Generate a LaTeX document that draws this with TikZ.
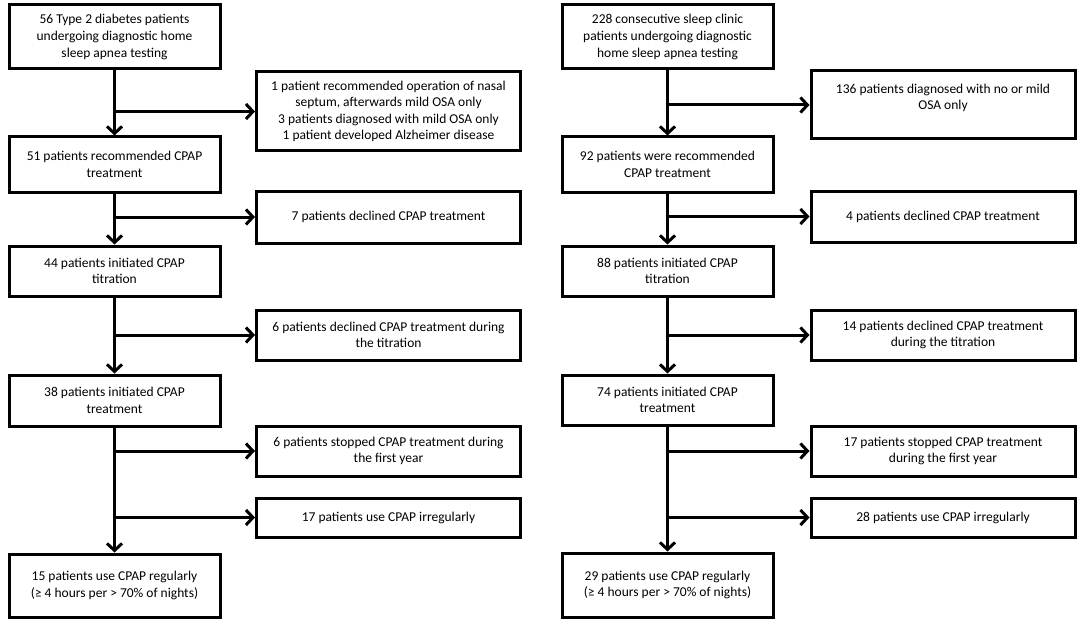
\documentclass[tikz,border=0pt]{standalone}
\usepackage{fontspec}
\setmainfont{Carlito}
\usetikzlibrary{arrows.meta}
\begin{document}
\begin{tikzpicture}[x=1pt,y=-1pt,
  box/.style={draw=black, line width=3pt, fill=white, align=center, inner sep=2pt,
    font=\fontsize{13.5}{16.6}\selectfont},
  mainbox/.style={box, minimum width=211pt},
  sidebox/.style={box, minimum width=264pt},
  arr/.style={line width=3pt, -{Straight Barb[length=7pt,width=15pt]}}]
\useasboundingbox (0,0) rectangle (1084,623);
% left column
\node[mainbox, minimum height=64pt] (a1) at (114.5,37) {56 Type 2 diabetes patients\\undergoing diagnostic home\\sleep apnea testing};
\node[mainbox, minimum height=55pt] (a2) at (114.5,164.5) {51 patients recommended  CPAP\\treatment};
\node[mainbox, minimum height=50pt] (a3) at (114.5,271) {44 patients initiated CPAP\\titration};
\node[mainbox, minimum height=51pt] (a4) at (114.5,400.5) {38 patients initiated CPAP\\treatment};
\node[mainbox, minimum height=63pt] (a5) at (114.5,585.5) {15 patients use CPAP regularly\\(≥ 4 hours per {>} 70\% of nights)};
\node[sidebox, minimum height=79pt] (s1) at (388.5,111.5) {1 patient recommended  operation of nasal\\septum, afterwards mild OSA only\\3 patients diagnosed with mild OSA only\\1 patient developed  Alzheimer disease};
\node[sidebox, minimum height=52pt] (s2) at (388.5,217) {7 patients declined CPAP treatment};
\node[sidebox, minimum height=50pt] (s3) at (388.5,335) {6 patients declined CPAP treatment  during\\the titration};
\node[sidebox, minimum height=50pt] (s4) at (388.5,451) {6 patients stopped CPAP treatment  during\\the first year};
\node[sidebox, minimum height=39pt] (s5) at (388.5,517.5) {17 patients use CPAP irregularly};
% right column
\node[mainbox, minimum height=64pt] (b1) at (667.5,37) {228 consecutive sleep clinic\\patients undergoing diagnostic\\home  sleep apnea testing};
\node[mainbox, minimum height=55pt] (b2) at (667.5,164.5) {92 patients were  recommended\\CPAP treatment};
\node[mainbox, minimum height=50pt] (b3) at (667.5,271) {88 patients initiated CPAP\\titration};
\node[mainbox, minimum height=50pt] (b4) at (667.5,400) {74 patients initiated CPAP\\treatment};
\node[mainbox, minimum height=64pt] (b5) at (667.5,585) {29 patients use CPAP regularly\\(≥ 4 hours per {>} 70\% of nights)};
\node[sidebox, minimum height=68pt] (r1) at (943,105) {136 patients diagnosed with no or mild\\OSA only\\\mbox{}};
\node[sidebox, minimum height=51pt] (r2) at (943,216.5) {4 patients declined CPAP treatment};
\node[sidebox, minimum height=50pt] (r3) at (943,335) {14 patients declined CPAP treatment\\during the titration};
\node[sidebox, minimum height=50pt] (r4) at (943,451) {17 patients stopped CPAP treatment\\during the first year};
\node[sidebox, minimum height=39pt] (r5) at (943,517.5) {28 patients use CPAP irregularly};
% left connectors
\draw[arr] (a1.south) -- (a2.north);
\draw[arr] (a1.south |- s1.west) -- (s1.west);
\draw[arr] (a2.south) -- (a3.north);
\draw[arr] (a2.south |- s2.west) -- (s2.west);
\draw[arr] (a3.south) -- (a4.north);
\draw[arr] (a3.south |- s3.west) -- (s3.west);
\draw[arr] (a4.south) -- (a5.north);
\draw[arr] (a4.south |- s4.west) -- (s4.west);
\draw[arr] (a4.south |- s5.west) -- (s5.west);
% right connectors
\draw[arr] (b1.south) -- (b2.north);
\draw[arr] (b1.south |- r1.west) -- (r1.west);
\draw[arr] (b2.south) -- (b3.north);
\draw[arr] (b2.south |- r2.west) -- (r2.west);
\draw[arr] (b3.south) -- (b4.north);
\draw[arr] (b3.south |- r3.west) -- (r3.west);
\draw[arr] (b4.south) -- (b5.north);
\draw[arr] (b4.south |- r4.west) -- (r4.west);
\draw[arr] (b4.south |- r5.west) -- (r5.west);
\end{tikzpicture}
\end{document}
